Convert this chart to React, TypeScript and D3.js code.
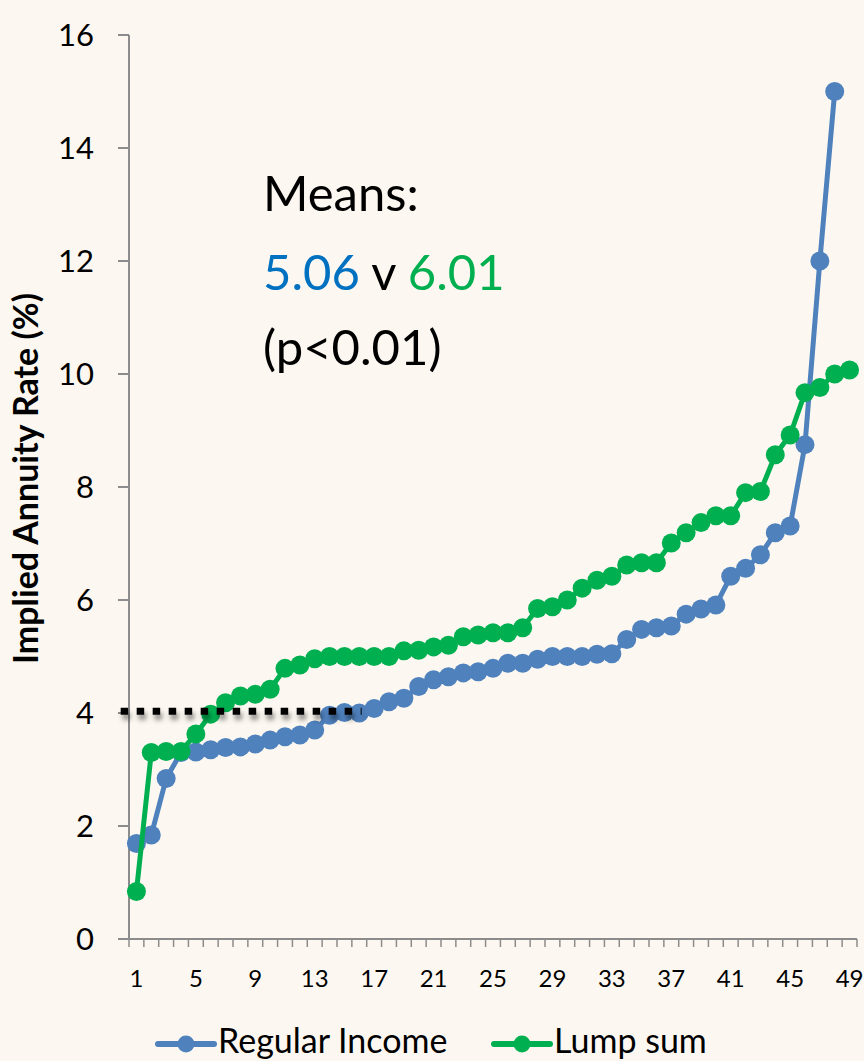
import React from 'react';
import * as d3 from 'd3';

const W = 864;
const H = 1061;

// Implied annuity rate (%) per respondent, sorted ascending
const regularIncome = [
  1.69, 1.84, 2.84, 3.3, 3.31, 3.35, 3.39, 3.4, 3.45, 3.52,
  3.58, 3.61, 3.7, 3.96, 4.01, 4.0, 4.08, 4.2, 4.26, 4.47,
  4.59, 4.64, 4.71, 4.73, 4.79, 4.88, 4.88, 4.95, 5.0, 5.0,
  5.0, 5.04, 5.05, 5.3, 5.48, 5.51, 5.54, 5.75, 5.84, 5.91,
  6.42, 6.56, 6.8, 7.19, 7.31, 8.75, 12.0, 15.0,
];
const lumpSum = [
  0.84, 3.3, 3.32, 3.32, 3.63, 3.98, 4.18, 4.3, 4.33, 4.42,
  4.79, 4.85, 4.96, 5.0, 5.0, 5.0, 5.0, 5.0, 5.1, 5.11,
  5.17, 5.2, 5.35, 5.38, 5.42, 5.42, 5.51, 5.85, 5.88, 6.0,
  6.21, 6.35, 6.42, 6.62, 6.66, 6.66, 7.01, 7.19, 7.37, 7.49,
  7.49, 7.9, 7.92, 8.57, 8.92, 9.67, 9.76, 10.0, 10.07,
];
const categories = d3.range(1, 50);
const xTickLabels = [1, 5, 9, 13, 17, 21, 25, 29, 33, 37, 41, 45, 49];
const yTickValues = [0, 2, 4, 6, 8, 10, 12, 14, 16];
const seriesNames = ['Regular Income', 'Lump sum'];
const meanRegular = '5.06';
const meanLump = '6.01';
const pValueText = '(p<0.01)';
// dotted reference line: rate level and category span
const refRate = 4.03;
const refSpan = [-0.06, 16.16];

const BLUE = '#4F81BD';
const GREEN = '#00B050';
const BLUE_TEXT = '#0070C0';
const AXIS = '#8c8c8c';
const BG = '#FCF8F1';
const FONT = 'Lato, "Open Sans", sans-serif';

const plot = { left: 129, right: 857, top: 35, bottom: 939 };

export default function App() {
  const x = d3.scaleBand<number>().domain(categories).range([plot.left, plot.right]);
  const xc = (i: number) => (x(i + 1) as number) + x.bandwidth() / 2;
  const xLin = d3.scaleLinear().domain([0.5, categories.length + 0.5]).range([plot.left, plot.right]);
  const y = d3.scaleLinear().domain([0, 16]).range([plot.bottom, plot.top]);

  const line = d3.line<number>().x((_, i) => xc(i)).y((d) => y(d));

  const series = [
    { name: seriesNames[0], values: regularIncome, color: BLUE },
    { name: seriesNames[1], values: lumpSum, color: GREEN },
  ];

  const boundaries = d3.range(0, categories.length + 1).map((k) => plot.left + k * x.bandwidth());

  return (
    <svg width={W} height={H} style={{ position: 'absolute', left: 0, top: 0, display: 'block' }}>
      <defs>
        <filter id="refShadow" filterUnits="userSpaceOnUse" x={0} y={0} width={W} height={H}>
          <feDropShadow dx="2" dy="5" stdDeviation="2.5" floodColor="#000" floodOpacity="0.45" />
        </filter>
      </defs>
      <rect x={0} y={0} width={W} height={H} fill={BG} />

      {/* y axis */}
      <line x1={plot.left} x2={plot.left} y1={plot.top} y2={plot.bottom} stroke={AXIS} strokeWidth={2} />
      {yTickValues.map((v) => (
        <g key={v}>
          <line x1={plot.left - 11} x2={plot.left} y1={y(v)} y2={y(v)} stroke={AXIS} strokeWidth={2} />
          <text x={94} y={y(v)} dy="0.36em" textAnchor="end" fontFamily={FONT} fontSize={31} fill="#000">
            {v}
          </text>
        </g>
      ))}
      <text
        transform={`translate(38, ${y(8.15)}) rotate(-90)`}
        textAnchor="middle"
        fontFamily={FONT}
        fontWeight={700}
        fontSize={34}
        fill="#000"
      >
        Implied Annuity Rate (%)
      </text>

      {/* x axis */}
      <line x1={plot.left} x2={plot.right} y1={plot.bottom} y2={plot.bottom} stroke={AXIS} strokeWidth={2} />
      {boundaries.map((bx, k) => (
        <line key={k} x1={bx} x2={bx} y1={plot.bottom} y2={plot.bottom + 8} stroke={AXIS} strokeWidth={1.5} />
      ))}
      {xTickLabels.map((c) => (
        <text key={c} x={xc(c - 1)} y={987} textAnchor="middle" fontFamily={FONT} fontSize={24} fill="#000">
          {c}
        </text>
      ))}

      {/* series lines and markers */}
      {series.map((s) => (
        <g key={s.name}>
          <path d={line(s.values) ?? ''} fill="none" stroke={s.color} strokeWidth={5} strokeLinejoin="round" />
          {s.values.map((v, i) => (
            <circle key={i} cx={xc(i)} cy={y(v)} r={9.5} fill={s.color} />
          ))}
        </g>
      ))}

      {/* dotted reference line */}
      <line
        x1={xLin(refSpan[0])}
        x2={xLin(refSpan[1])}
        y1={y(refRate)}
        y2={y(refRate)}
        stroke="#000"
        strokeWidth={7}
        strokeDasharray="7.5 8.5"
        filter="url(#refShadow)"
      />

      {/* means annotation */}
      <g fontFamily={FONT} fontSize={49} fill="#000">
        <text x={263} y={211}>Means:</text>
        <text x={263} y={290}>
          <tspan fill={BLUE_TEXT}>{meanRegular}</tspan>
          <tspan> v </tspan>
          <tspan fill={GREEN}>{meanLump}</tspan>
        </text>
        <text x={263} y={365}>{pValueText}</text>
      </g>

      {/* legend */}
      {series.map((s, k) => {
        const x0 = k === 0 ? 158 : 494;
        const ly = 1044;
        return (
          <g key={s.name}>
            <line x1={x0} x2={x0 + 56} y1={ly} y2={ly} stroke={s.color} strokeWidth={6} strokeLinecap="round" />
            <circle cx={x0 + 28} cy={ly} r={8.5} fill={s.color} />
            <text x={x0 + 60} y={1053} fontFamily={FONT} fontSize={34} fill="#000">
              {s.name}
            </text>
          </g>
        );
      })}
    </svg>
  );
}
